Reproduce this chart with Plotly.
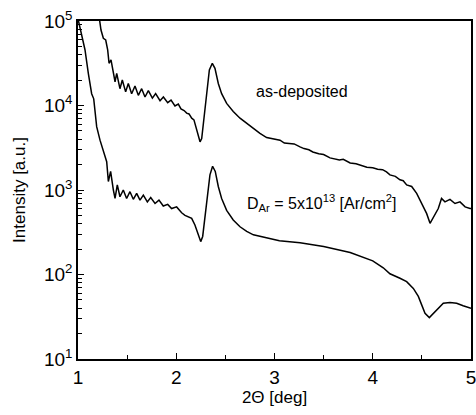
import plotly.graph_objects as go

# ---- data (2Theta in deg, intensity in a.u.) ----
x_asdep = [1.215, 1.234, 1.258, 1.282, 1.302, 1.316, 1.336, 1.36, 1.377, 1.394,
           1.427, 1.451, 1.485, 1.512, 1.546, 1.58, 1.614, 1.648, 1.682, 1.716,
           1.757, 1.79, 1.835, 1.869, 1.913, 1.947, 1.987, 2.021, 2.048, 2.08,
           2.106, 2.13, 2.157, 2.18, 2.20, 2.224, 2.242, 2.259, 2.282, 2.31,
           2.337, 2.367, 2.394, 2.428, 2.462, 2.513, 2.58, 2.649, 2.717, 2.785,
           2.852, 2.92, 2.98, 3.056, 3.10, 3.158, 3.20, 3.26, 3.30, 3.35,
           3.39, 3.45, 3.50, 3.565, 3.62, 3.66, 3.70, 3.77, 3.83, 3.88,
           3.94, 4.00, 4.05, 4.10, 4.14, 4.175, 4.23, 4.277, 4.31, 4.345,
           4.396, 4.447, 4.498, 4.549, 4.583, 4.616, 4.667, 4.70, 4.735, 4.786,
           4.837, 4.888, 4.94, 4.99, 5.0]
i_asdep = [112000, 78200, 62400, 59600, 45400, 31600, 34700, 25100, 19100, 24000,
           15800, 20000, 14500, 18200, 13800, 17000, 13200, 15800, 12600, 15000,
           12200, 13800, 11400, 12600, 10800, 11600, 9860, 10400, 9120, 8710,
           8130, 7940, 7080, 6760, 5620, 4270, 3720, 4070, 7410, 15100,
           26300, 31600, 27500, 18200, 13800, 10600, 8510, 7080, 6170, 5250,
           4680, 4170, 4050, 3890, 3590, 3550, 3510, 3240, 3090, 2990,
           2820, 2690, 2630, 2400, 2340, 2260, 2310, 2090, 2040, 1950,
           1860, 1830, 1760, 1740, 1640, 1510, 1450, 1320, 1290, 1150,
           1100, 912, 692, 525, 403, 479, 603, 794, 724, 776,
           692, 724, 631, 603, 603]

x_dar = [1.005, 1.037, 1.071, 1.105, 1.139, 1.16, 1.19, 1.224, 1.258, 1.275,
         1.292, 1.309, 1.332, 1.36, 1.377, 1.40, 1.427, 1.461, 1.495, 1.529,
         1.563, 1.597, 1.631, 1.665, 1.706, 1.74, 1.784, 1.824, 1.868, 1.913,
         1.953, 2.004, 2.055, 2.089, 2.123, 2.157, 2.19, 2.224, 2.249, 2.269,
         2.293, 2.32, 2.343, 2.37, 2.397, 2.428, 2.462, 2.513, 2.58, 2.649,
         2.717, 2.785, 2.852, 2.937, 3.05, 3.26, 3.5, 3.77, 4.0, 4.107,
         4.175, 4.277, 4.345, 4.413, 4.464, 4.498, 4.532, 4.576, 4.616, 4.667,
         4.718, 4.786, 4.854, 4.92, 4.99, 5.0]
i_dar = [100000, 70800, 45700, 24000, 13800, 12000, 5620, 3890, 2820, 2570,
         2160, 1260, 1660, 1000, 794, 1150, 832, 1000, 794, 955,
         776, 912, 759, 871, 724, 813, 692, 759, 646, 676,
         603, 631, 537, 501, 479, 462, 385, 295, 245, 282,
         479, 912, 1510, 1910, 1660, 1100, 794, 575, 442, 367,
         324, 295, 282, 269, 251, 237, 214, 182, 145, 120,
         102, 90.2, 82.2, 68.4, 55.0, 43.7, 34.7, 30.9, 34.7, 39.8,
         45.7, 46.5, 45.7, 42.7, 39.8, 39.8]

y_tickvals = [10, 100, 1000, 10000, 100000]
y_ticktext = ["10<sup>1</sup>", "10<sup>2</sup>", "10<sup>3</sup>",
              "10<sup>4</sup>", "10<sup>5</sup>"]

FONT = "Liberation Sans, Arial, sans-serif"

fig = go.Figure()
for xs, ys, name in [(x_asdep, i_asdep, "as-deposited"), (x_dar, i_dar, "D_Ar")]:
    fig.add_trace(go.Scatter(x=xs, y=ys, mode="lines", name=name,
                             line=dict(color="black", width=1.5)))

fig.update_layout(
    width=476, height=415,
    margin=dict(l=78, r=5, t=21, b=56),
    paper_bgcolor="white", plot_bgcolor="white",
    showlegend=False,
    font=dict(family=FONT, color="black"),
)
fig.update_xaxes(
    range=[1, 5], tickvals=[1, 2, 3, 4, 5], ticks="inside", ticklen=6,
    tickwidth=1.2, tickcolor="black",
    minor=dict(dtick=0.5, tick0=1, ticks="inside", ticklen=4,
               tickcolor="black", tickwidth=1, showgrid=False),
    showline=True, linecolor="black", linewidth=1.5, mirror=True,
    showgrid=False, zeroline=False, automargin=False,
    ticklabeloverflow="allow",
    tickfont=dict(size=19, family=FONT),
    title=dict(text="2Θ [deg]", font=dict(size=17, family=FONT), standoff=4),
)
fig.update_yaxes(
    type="log", range=[1, 5], tickvals=y_tickvals, ticktext=y_ticktext,
    ticks="inside", ticklen=6, tickwidth=1.2, tickcolor="black",
    minor=dict(dtick="D1", ticks="inside", ticklen=4,
               tickcolor="black", tickwidth=1, showgrid=False),
    showline=True, linecolor="black", linewidth=1.5, mirror=True,
    showgrid=False, zeroline=False, automargin=False,
    ticklabeloverflow="allow",
    tickfont=dict(size=19, family=FONT),
    title=dict(text="Intensity [a.u.]", font=dict(size=17, family=FONT), standoff=14),
)

fig.add_annotation(x=2.79, y=4.16, xref="x", yref="y", text="as-deposited",
                   showarrow=False, xanchor="left", yanchor="middle",
                   font=dict(size=16, family=FONT))
fig.add_annotation(x=2.70, y=2.85, xref="x", yref="y",
                   text="D<sub>Ar</sub> = 5x10<sup>13</sup> [Ar/cm<sup>2</sup>]",
                   showarrow=False, xanchor="left", yanchor="middle",
                   font=dict(size=16, family=FONT))

fig.write_html("out.html", config={"displayModeBar": False},
               post_script="document.body.style.margin='0';document.body.style.overflow='hidden';")
